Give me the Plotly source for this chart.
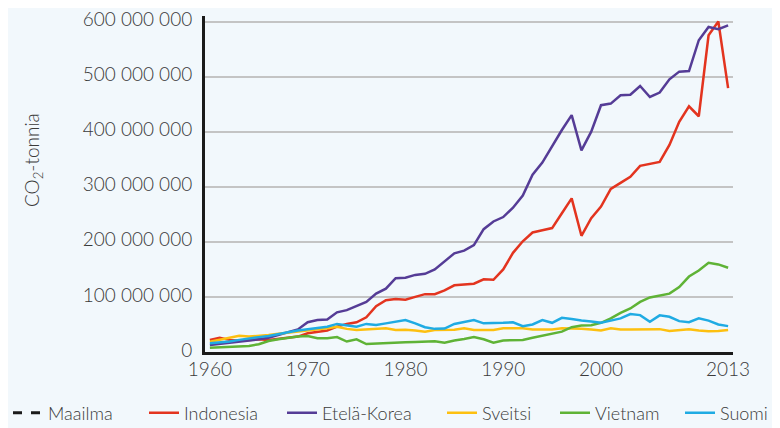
import plotly.graph_objects as go

years = list(range(1960, 2014))

indonesia = [21.8, 26, 22, 20.5, 22, 23, 22, 24, 25, 28,
             34, 36, 39, 46, 51, 54, 63, 83, 94, 96,
             95, 100, 105, 105, 112, 121, 122, 124, 132, 131,
             150, 180, 201, 217, 221, 225, 252, 279, 211, 243,
             264, 296, 307, 318, 338, 342, 345, 376, 418, 446,
             428, 575, 600, 479]

etela_korea = [12.7, 14.5, 17, 19, 21, 23, 26, 31, 36, 41,
               54, 58, 59, 72, 76, 83, 91, 106, 115, 134,
               135, 140, 142, 150, 164, 179, 184, 194, 223, 237,
               245, 262, 284, 322, 344, 374, 403, 430, 366, 400,
               448, 451, 466, 467, 483, 463, 471, 495, 509, 510,
               566, 590, 586, 593]

sveitsi = [18.5, 22, 26, 29.5, 28, 29, 31, 33, 35, 37,
           38, 41, 43, 46, 42, 40, 41, 41.5, 43, 40,
           40.5, 39, 37, 40, 40, 40.5, 43, 40, 40, 40,
           43, 43, 43, 41, 40.5, 41, 43, 43, 42, 41,
           39, 43, 41, 41, 41.5, 41.5, 41.5, 38, 40, 41.5,
           39, 37.5, 38, 40]

vietnam = [7.8, 8.5, 9, 9.5, 11, 14, 20, 23, 26, 28,
           29, 25, 25, 27, 19, 23, 14.5, 15.5, 16, 17,
           17.5, 18, 18.5, 19.5, 17, 21, 23.5, 27, 23, 17,
           21, 21, 22, 26, 30, 33, 37, 45, 48, 48.5,
           53, 61, 71, 79, 91, 99, 103, 106, 118, 137,
           148, 162, 159, 153]

suomi = [15.7, 17, 19, 22, 25, 27, 29, 33, 36, 39,
         41, 43, 46, 51, 48, 46, 51, 49, 52, 54.5,
         58, 52, 45, 42, 42.5, 51, 54.5, 58, 52, 52,
         53, 54, 47, 50, 58, 53, 62, 60, 57, 55.5,
         53, 57, 61, 69, 67, 55, 66.5, 64, 56, 54,
         61, 57, 50, 47]

x_tick_vals = [1960, 1970, 1980, 1990, 2000, 2013]
x_tick_text = ["1960", "1970", "1980", "1990", "2000", "2013"]
y_tick_vals = [0, 100e6, 200e6, 300e6, 400e6, 500e6, 600e6]
y_title = "CO<sub>2</sub>-tonnia"

series = [
    ("Indonesia", indonesia, "#e3341f"),
    ("Etelä-Korea", etela_korea, "#553c96"),
    ("Sveitsi", sveitsi, "#fdc010"),
    ("Vietnam", vietnam, "#5fb336"),
    ("Suomi", suomi, "#1fabe3"),
]

FONT = "Lato, 'Open Sans', sans-serif"
TXT = "#3a3a3a"
W, H = 772, 420  # page body has an 8px margin
MT, MB = 8, 76
legend_x_px = [0, 136, 274, 434, 547, 672]

fig = go.Figure()
fig.add_trace(go.Scatter(x=[None], y=[None], mode="lines", name="Maailma",
                         legend="legend",
                         line=dict(color="#1a1a1a", width=3, dash="dash")))
for i, (name, vals, col) in enumerate(series):
    fig.add_trace(go.Scatter(
        x=years, y=[v * 1e6 for v in vals], mode="lines", name=name,
        legend="legend" + str(i + 2),
        line=dict(color=col, width=2.5), hoverinfo="skip"))

legend_common = dict(orientation="h", xref="container", yref="container",
                     xanchor="left", yanchor="middle", y=1 - 405 / H,
                     font=dict(size=18, color=TXT, family=FONT, weight=300),
                     bgcolor="rgba(0,0,0,0)", itemwidth=30)

layout_legends = {}
for i, px in enumerate(legend_x_px):
    key = "legend" if i == 0 else "legend" + str(i + 1)
    layout_legends[key] = dict(legend_common, x=px / W)

plot_h = H - MT - MB
fig.update_layout(
    width=W, height=H,
    margin=dict(l=197, r=47, t=MT, b=MB, autoexpand=False),
    paper_bgcolor="#f2f8fc", plot_bgcolor="#f2f8fc",
    separators=", ",
    font=dict(family=FONT, size=19, color=TXT, weight=300),
    showlegend=True,
    xaxis=dict(range=[1959.5, 2013.5], tickmode="array",
               tickvals=x_tick_vals, ticktext=x_tick_text,
               showgrid=False, zeroline=False, showline=True,
               linecolor="#1a1a1a", linewidth=3, ticks="",
               ticklabelstandoff=-2,
               tickfont=dict(size=19, color=TXT, weight=300)),
    yaxis=dict(range=[0, 610e6], tickmode="array", tickvals=y_tick_vals,
               tickformat=",d", showgrid=True, gridcolor="#c4c4c4",
               gridwidth=1.5, zeroline=False, showline=True,
               linecolor="#1a1a1a", linewidth=3, ticks="",
               ticklabelstandoff=6, ticklabelshift=-2,
               ticklabeloverflow="allow",
               tickfont=dict(size=19, color=TXT, weight=300)),
    annotations=[dict(text=y_title, textangle=-90, showarrow=False,
                      xref="paper", yref="paper", x=0, xshift=-172,
                      y=(344 - 152) / plot_h, xanchor="center",
                      yanchor="middle",
                      font=dict(size=19, color=TXT, family=FONT, weight=300))],
    **layout_legends,
)

fig.write_html("out.html")
